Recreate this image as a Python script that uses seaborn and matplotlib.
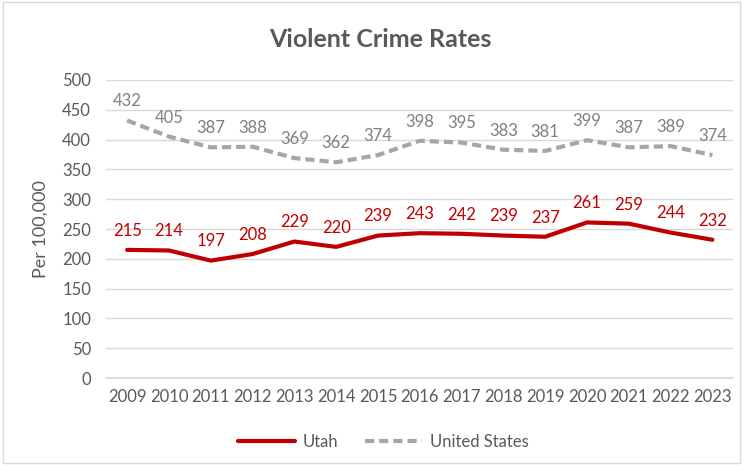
import seaborn as sns
import pandas as pd
import matplotlib.pyplot as plt
from matplotlib.lines import Line2D

years = [2009, 2010, 2011, 2012, 2013, 2014, 2015, 2016, 2017, 2018, 2019, 2020, 2021, 2022, 2023]
utah = [215, 214, 197, 208, 229, 220, 239, 243, 242, 239, 237, 261, 259, 244, 232]
us = [432, 405, 387, 388, 369, 362, 374, 398, 395, 383, 381, 399, 387, 389, 374]

df = pd.DataFrame({
    "Year": [str(y) for y in years] * 2,
    "Rate": utah + us,
    "Area": ["Utah"] * len(years) + ["United States"] * len(years),
})

sns.set_theme(style="white")
plt.rcParams['font.family'] = ['Lato', 'DejaVu Sans']
txt = "#595959"
red = "#C00000"
grey = "#A6A6A6"

fig = plt.figure(figsize=(7.43, 4.65), dpi=100)
ax = fig.add_axes([0.143, 0.187, 0.844, 0.641])

sns.lineplot(data=df, x="Year", y="Rate", hue="Area", style="Area",
             palette={"Utah": red, "United States": grey},
             dashes={"Utah": "", "United States": (2.2, 1.2)},
             linewidth=3, sort=False, legend=False, ax=ax)

for i in range(len(years)):
    ax.annotate(str(utah[i]), (i, utah[i]), xytext=(0, 8), textcoords="offset points",
                ha="center", va="bottom", color=red, fontsize=12)
    ax.annotate(str(us[i]), (i, us[i]), xytext=(0, 8), textcoords="offset points",
                ha="center", va="bottom", color="#808080", fontsize=12)

ax.set_ylim(0, 500)
ax.set_yticks(range(0, 501, 50))
ax.set_xlim(-0.5, len(years) - 0.5)
ax.yaxis.grid(True, color="#D9D9D9", linewidth=1)
ax.set_axisbelow(True)
for s in ["top", "right", "left"]:
    ax.spines[s].set_visible(False)
ax.spines["bottom"].set_color("#D9D9D9")
ax.tick_params(axis="both", colors=txt, labelsize=12, length=0)
ax.tick_params(axis="y", pad=11)
ax.tick_params(axis="x", pad=8)
ax.set_xlabel("")
ax.set_ylabel("Per 100,000", color=txt, fontsize=13, labelpad=10)

fig.text(0.512, 0.915, "Violent Crime Rates", ha="center", va="center",
         fontsize=18, fontweight="bold", color=txt)

handles = [Line2D([], [], color=red, linewidth=3),
           Line2D([], [], color=grey, linewidth=3, dashes=(2.2, 1.2))]
fig.legend(handles, ["Utah", "United States"], loc="center", bbox_to_anchor=(0.516, 0.05),
           ncol=2, frameon=False, fontsize=12, labelcolor=txt, handlelength=3.4,
           columnspacing=1.6, handletextpad=0.5)

fig.patches.append(plt.Rectangle((0.004, 0.004), 0.992, 0.992, transform=fig.transFigure,
                                 fill=False, edgecolor="#D9D9D9", linewidth=1))

fig.savefig("out.png", dpi=100)
